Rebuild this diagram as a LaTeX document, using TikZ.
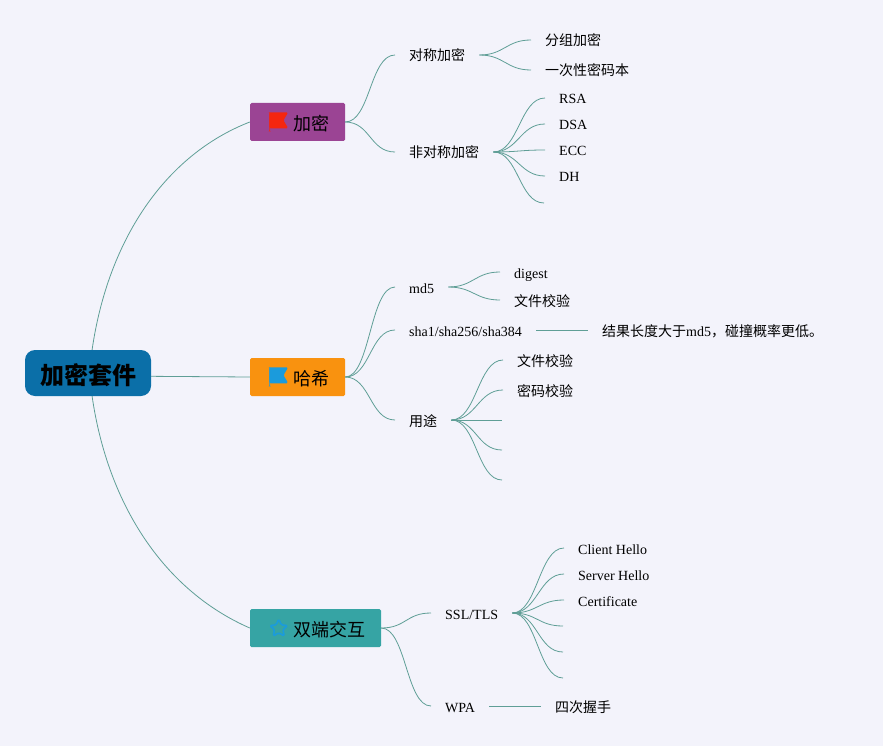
\documentclass[tikz,border=0pt]{standalone}
\usepackage{fontspec}
\setmainfont{Liberation Serif}
\newfontfamily\cjk{Noto Sans CJK SC}
\usetikzlibrary{positioning}

\definecolor{pagebg}{HTML}{F3F3FB}
\definecolor{linkcolor}{HTML}{5F9E96}
\definecolor{rootcolor}{HTML}{0B6FA8}
\definecolor{purplebox}{HTML}{9B4494}
\definecolor{orangebox}{HTML}{F9920F}
\definecolor{tealbox}{HTML}{36A4A4}
\definecolor{flagred}{HTML}{F5260F}
\definecolor{flagblue}{HTML}{1B9BDC}

\tikzset{
    link/.style={draw=linkcolor, line width=0.8pt},
    rootbox/.style={fill=rootcolor, rounded corners=10pt, minimum width=126pt, minimum height=46pt, inner sep=0pt, text height=22pt, text depth=0pt, font=\fontsize{24}{28}\selectfont\cjk\bfseries},
    topicbox/.style={rounded corners=1.5pt, minimum height=38pt, inner sep=0pt, font=\fontsize{18}{22}\selectfont},
    leaf/.style={anchor=west, inner xsep=14pt, inner ysep=0pt, text height=13pt, text depth=1pt, font=\fontsize{14}{16}\selectfont}
}

\newcommand{\flagicon}[1]{\tikz[baseline=2.5pt, x=1pt, y=1pt] {\fill[#1] (0,0) rectangle (0.8,19); \fill[#1] (0,3) -- (0,19) -- (19,19) -- (14.2,11) -- (19,3) -- cycle;}}
\newcommand{\staricon}{\tikz[baseline=2.5pt, x=1pt, y=1pt] \draw[flagblue, line width=1.6pt, line join=round] (9.5,18.5) -- (12,12.4) -- (18.5,11.9) -- (13.6,7.7) -- (15.1,1.3) -- (9.5,4.7) -- (3.9,1.3) -- (5.4,7.7) -- (0.5,11.9) -- (7,12.4) -- cycle;}

\begin{document}
\begin{tikzpicture}[x=1pt, y=-1pt]

    % Page
    \fill [pagebg] (0,0) rectangle (883,746);
    \useasboundingbox (0,0) rectangle (883,746);

    % Constants
    \pgfmathsetmacro{\bend}{25}

    % Root and topics
    \node [rootbox] (root) at (88,373) {加密套件};
    \node [topicbox, fill=purplebox, minimum width=95pt] (encrypt) at (297.5,122) {\hspace{3.5pt}\flagicon{flagred}\hspace{5pt}{\cjk\raisebox{-1.5pt}{加密}}};
    \node [topicbox, fill=orangebox, minimum width=95pt] (hash) at (297.5,377) {\hspace{3.5pt}\flagicon{flagblue}\hspace{5pt}{\cjk\raisebox{-1.5pt}{哈希}}};
    \node [topicbox, fill=tealbox, minimum width=131pt] (duplex) at (315.5,628) {\hspace{3.5pt}\staricon\hspace{5pt}{\cjk\raisebox{-1.5pt}{双端交互}}};

    % Encrypt branch
    \node [leaf] (sym) at (395,55) {\cjk 对称加密};
    \node [leaf] (block) at (531,40) {\cjk 分组加密};
    \node [leaf] (otp) at (531,70) {\cjk 一次性密码本};
    \node [leaf] (asym) at (395,152) {\cjk 非对称加密};
    \node [leaf] (rsa) at (545,98) {RSA};
    \node [leaf] (dsa) at (545,124) {DSA};
    \node [leaf] (ecc) at (545,150) {ECC};
    \node [leaf] (dh) at (545,176) {DH};
    \coordinate (asymE) at (544,203);

    % Hash branch
    \node [leaf] (md) at (395,287) {md5};
    \node [leaf] (digest) at (500,272) {digest};
    \node [leaf] (filecheck) at (500,300) {\cjk 文件校验};
    \node [leaf] (sha) at (395,330) {sha1/sha256/sha384};
    \node [leaf] (shanote) at (588,330) {{\cjk 结果长度大于}md5{\cjk ，碰撞概率更低。}};
    \node [leaf] (usage) at (395,420) {\cjk 用途};
    \node [leaf] (usefile) at (503,360) {\cjk 文件校验};
    \node [leaf] (usepass) at (503,390) {\cjk 密码校验};
    \coordinate (useC) at (502,420);
    \coordinate (useD) at (502,450);
    \coordinate (useE) at (502,480);

    % Duplex branch
    \node [leaf] (ssl) at (431,613) {SSL/TLS};
    \node [leaf] (client) at (564,548) {Client Hello};
    \node [leaf] (server) at (564,574) {Server Hello};
    \node [leaf] (cert) at (564,600) {Certificate};
    \coordinate (sslD) at (563,626);
    \coordinate (sslE) at (563,652);
    \coordinate (sslF) at (563,678);
    \node [leaf] (wpa) at (431,706) {WPA};
    \node [leaf] (shake) at (541,706) {\cjk 四次握手};

    % Root links
    \draw [link] (root.80) .. controls (108,240) and (165,155) .. (encrypt.west);
    \draw [link] (root.-3) -- (hash.west);
    \draw [link] (root.-80) .. controls (108,506) and (165,591) .. (duplex.west);

    % Topic links
    \draw [link] (encrypt.east) .. controls +(\bend,0) and +(-\bend,0) .. (sym.west);
    \draw [link] (encrypt.east) .. controls +(\bend,0) and +(-\bend,0) .. (asym.west);
    \draw [link] (hash.east) .. controls +(\bend,0) and +(-\bend,0) .. (md.west);
    \draw [link] (hash.east) .. controls +(\bend,0) and +(-\bend,0) .. (sha.west);
    \draw [link] (hash.east) .. controls +(\bend,0) and +(-\bend,0) .. (usage.west);
    \draw [link] (duplex.east) .. controls +(\bend,0) and +(-\bend,0) .. (ssl.west);
    \draw [link] (duplex.east) .. controls +(\bend,0) and +(-\bend,0) .. (wpa.west);

    % Leaf links
    \draw [link] (sym.east) .. controls +(\bend,0) and +(-\bend,0) .. (block.west);
    \draw [link] (sym.east) .. controls +(\bend,0) and +(-\bend,0) .. (otp.west);
    \draw [link] (asym.east) .. controls +(\bend,0) and +(-\bend,0) .. (rsa.west);
    \draw [link] (asym.east) .. controls +(\bend,0) and +(-\bend,0) .. (dsa.west);
    \draw [link] (asym.east) .. controls +(\bend,0) and +(-\bend,0) .. (ecc.west);
    \draw [link] (asym.east) .. controls +(\bend,0) and +(-\bend,0) .. (dh.west);
    \draw [link] (asym.east) .. controls +(\bend,0) and +(-\bend,0) .. (asymE);

    \draw [link] (md.east) .. controls +(\bend,0) and +(-\bend,0) .. (digest.west);
    \draw [link] (md.east) .. controls +(\bend,0) and +(-\bend,0) .. (filecheck.west);
    \draw [link] (sha.east) -- (shanote.west);
    \draw [link] (usage.east) .. controls +(\bend,0) and +(-\bend,0) .. (usefile.west);
    \draw [link] (usage.east) .. controls +(\bend,0) and +(-\bend,0) .. (usepass.west);
    \draw [link] (usage.east) .. controls +(\bend,0) and +(-\bend,0) .. (useC);
    \draw [link] (usage.east) .. controls +(\bend,0) and +(-\bend,0) .. (useD);
    \draw [link] (usage.east) .. controls +(\bend,0) and +(-\bend,0) .. (useE);

    \draw [link] (ssl.east) .. controls +(\bend,0) and +(-\bend,0) .. (client.west);
    \draw [link] (ssl.east) .. controls +(\bend,0) and +(-\bend,0) .. (server.west);
    \draw [link] (ssl.east) .. controls +(\bend,0) and +(-\bend,0) .. (cert.west);
    \draw [link] (ssl.east) .. controls +(\bend,0) and +(-\bend,0) .. (sslD);
    \draw [link] (ssl.east) .. controls +(\bend,0) and +(-\bend,0) .. (sslE);
    \draw [link] (ssl.east) .. controls +(\bend,0) and +(-\bend,0) .. (sslF);
    \draw [link] (wpa.east) -- (shake.west);

\end{tikzpicture}
\end{document}
